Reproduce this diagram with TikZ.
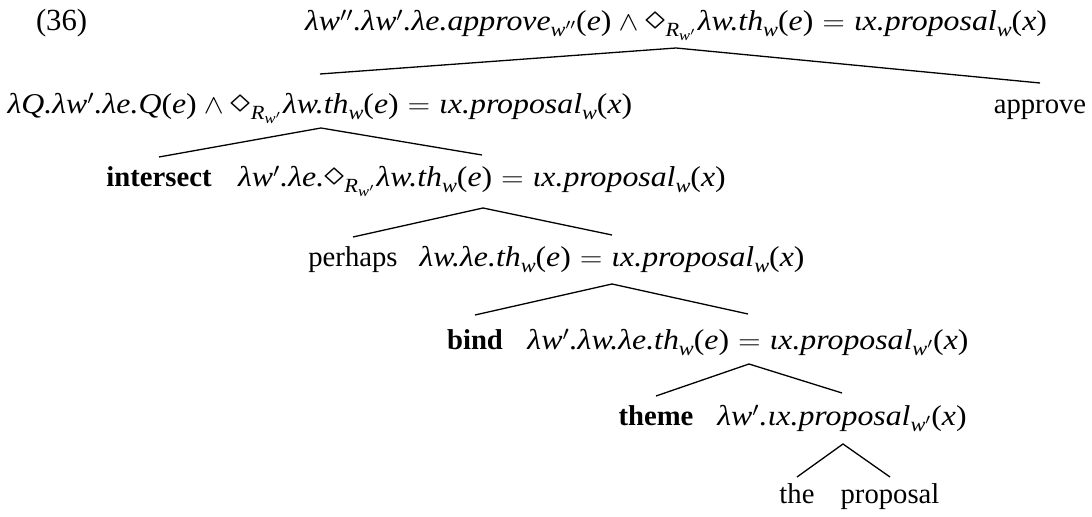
\documentclass[tikz,border=0pt]{standalone}
\usepackage{fontspec}
\setmainfont{Liberation Serif}
\newcommand\sbs[1]{\raisebox{-0.2em}{\fontsize{10.8}{12}\selectfont\itshape #1}}
\newcommand\ssbs[1]{\raisebox{-0.2em}{\fontsize{8}{9}\selectfont\itshape #1}}
\newcommand\ap[1]{\textup{(}#1\textup{)}}
\newcommand\eqs{\;$=$\;}
\newcommand\wdg{\:$\wedge$\:}
\newcommand\dia{\raisebox{0.05em}{\scalebox{1.35}{$\diamond$}}}
\newcommand\fm[1]{\scalebox{1.11}[1]{#1}}
\begin{document}
\begin{tikzpicture}[x=0.537pt,y=-0.537pt,
  lbl/.style={anchor=base,inner sep=0pt,outer sep=0pt,font=\fontsize{15.4}{18}\selectfont},
  fml/.style={lbl,font=\fontsize{15.4}{18}\selectfont\itshape},
  branch/.style={line width=0.7pt,line join=miter}]
\useasboundingbox (0,0) rectangle (1092,517);
% branch points
\coordinate (a1) at (676,48);  \coordinate (l1) at (320,74);  \coordinate (e1) at (1040,83);
\coordinate (a2) at (321,128); \coordinate (l2) at (159,157); \coordinate (e2) at (482,155);
\coordinate (a3) at (483,208); \coordinate (l3) at (353,237); \coordinate (e3) at (612,235);
\coordinate (a4) at (612,284); \coordinate (l4) at (475,315); \coordinate (e4) at (748,314);
\coordinate (a5) at (749,364); \coordinate (l5) at (656,396); \coordinate (e5) at (842,393);
\coordinate (a6) at (843,444); \coordinate (l6) at (797,477); \coordinate (e6) at (890,477);
% row 1
\node[lbl,anchor=base west,font=\fontsize{16.5}{19}\selectfont] (num) at (36,31) {(36)};
\node[fml] (r1) at (676,31) {\fm{λw$''$.λw$'$.λe.approve\sbs{w$''$}\ap{e}\wdg\dia\sbs{R\ssbs{w$'$}}\kern1pt λw.th\sbs{w}\ap{e}\eqs ιx.proposal\sbs{w}\ap{x}}};
% row 2
\node[fml] (r2) at (320,114) {\fm{λQ.λw$'$.λe.Q\ap{e}\wdg\dia\sbs{R\ssbs{w$'$}}\kern1pt λw.th\sbs{w}\ap{e}\eqs ιx.proposal\sbs{w}\ap{x}}};
\node[lbl] (approve) at (1040,114) {approve};
% row 3
\node[lbl] (intersect) at (159,187) {\textbf{intersect}};
\node[fml] (r3) at (482,187) {\fm{λw$'$.λe.\dia\sbs{R\ssbs{w$'$}}\kern1pt λw.th\sbs{w}\ap{e}\eqs ιx.proposal\sbs{w}\ap{x}}};
% row 4
\node[lbl] (perhaps) at (353,267) {perhaps};
\node[fml] (r4) at (612,267) {\fm{λw.λe.th\sbs{w}\ap{e}\eqs ιx.proposal\sbs{w}\ap{x}}};
% row 5
\node[lbl] (bind) at (475,350) {\textbf{bind}};
\node[fml] (r5) at (748,350) {\fm{λw$'$.λw.λe.th\sbs{w}\ap{e}\eqs ιx.proposal\sbs{w$'$}\ap{x}}};
% row 6
\node[lbl] (theme) at (656,426) {\textbf{theme}};
\node[fml] (r6) at (842,426) {\fm{λw$'$.ιx.proposal\sbs{w$'$}\ap{x}}};
% row 7
\node[lbl] (the) at (797,504) {the};
\node[lbl] (proposal) at (890,504) {proposal};
\draw[branch] (l1) -- (a1) -- (e1);
\draw[branch] (l2) -- (a2) -- (e2);
\draw[branch] (l3) -- (a3) -- (e3);
\draw[branch] (l4) -- (a4) -- (e4);
\draw[branch] (l5) -- (a5) -- (e5);
\draw[branch] (l6) -- (a6) -- (e6);
\end{tikzpicture}
\end{document}
